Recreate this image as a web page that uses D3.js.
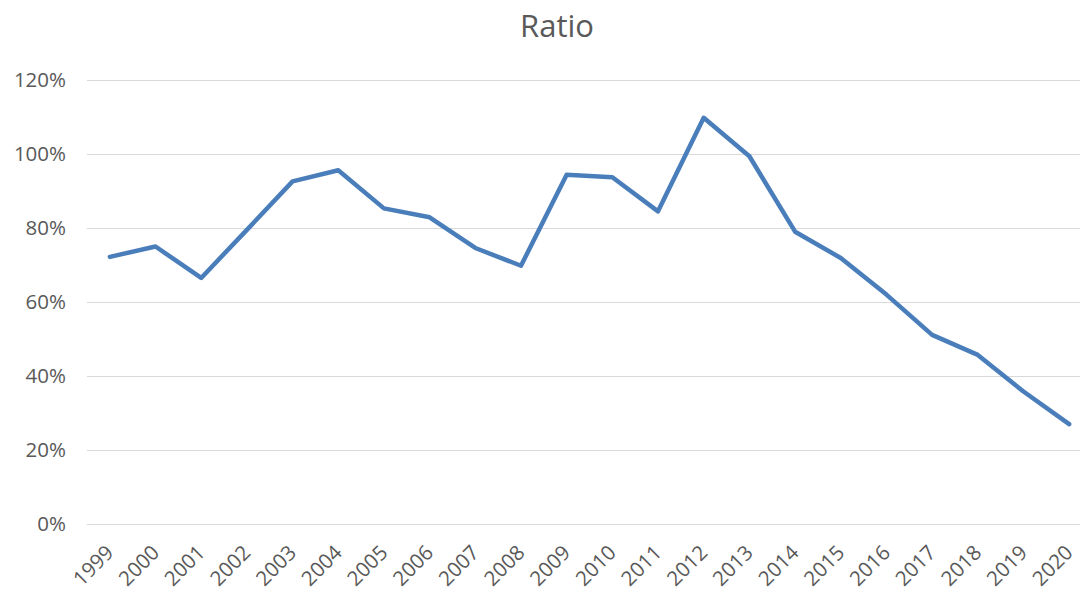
<!DOCTYPE html>
<html lang="en">
<head>
<meta charset="utf-8">
<title>Ratio</title>
<style>
  body { margin: 0; background: #fff; }
  text { font-family: "Open Sans", "Noto Sans", "DejaVu Sans", sans-serif; fill: #595959; }
</style>
</head>
<body>
<svg id="chart" width="1080" height="590"></svg>
<script src="https://d3js.org/d3.v7.min.js"></script>
<script>
  var years = ["1999","2000","2001","2002","2003","2004","2005","2006","2007","2008","2009",
               "2010","2011","2012","2013","2014","2015","2016","2017","2018","2019","2020"];
  var ratio = [0.722, 0.750, 0.665, 0.795, 0.926, 0.956, 0.853, 0.829, 0.746, 0.698, 0.944,
               0.937, 0.845, 1.098, 0.994, 0.790, 0.719, 0.620, 0.511, 0.457, 0.358, 0.270];
  var yTicks = [0, 0.2, 0.4, 0.6, 0.8, 1.0, 1.2];

  var data = years.map((y, i) => ({year: y, value: ratio[i]}));

  var svg = d3.select("#chart");

  let xScale = d3.scalePoint()
    .domain(years)
    .range([87, 1092])
    .padding(0.5);

  let yScale = d3.scaleLinear()
    .domain([0, 1.2])
    .range([524, 80]);

  // title
  svg.append("text")
    .attr("x", 557)
    .attr("y", 37)
    .attr("text-anchor", "middle")
    .style("font-size", "31px")
    .text("Ratio");

  // gridlines
  svg.append("g")
    .selectAll("line")
    .data(yTicks)
    .join("line")
    .attr("x1", 87)
    .attr("x2", 1092)
    .attr("y1", d => Math.round(yScale(d)) + 0.5)
    .attr("y2", d => Math.round(yScale(d)) + 0.5)
    .attr("stroke", "#d9d9d9")
    .attr("stroke-width", 1);

  // y labels
  svg.append("g")
    .selectAll("text")
    .data(yTicks)
    .join("text")
    .attr("x", 66)
    .attr("y", d => yScale(d))
    .attr("dy", "0.35em")
    .attr("text-anchor", "end")
    .style("font-size", "20.5px")
    .text(d3.format(".0%"));

  // x labels
  svg.append("g")
    .selectAll("text")
    .data(years)
    .join("text")
    .attr("text-anchor", "end")
    .attr("transform", d => "translate(" + (xScale(d) + 5) + ",554) rotate(-45)")
    .style("font-size", "20.5px")
    .text(d => d);

  // line
  let line = d3.line()
    .x(d => xScale(d.year))
    .y(d => yScale(d.value));

  svg.append("path")
    .datum(data)
    .attr("d", line)
    .attr("fill", "none")
    .attr("stroke", "#4a7ebb")
    .attr("stroke-width", 4.5)
    .attr("stroke-linejoin", "round")
    .attr("stroke-linecap", "round");
</script>
</body>
</html>
